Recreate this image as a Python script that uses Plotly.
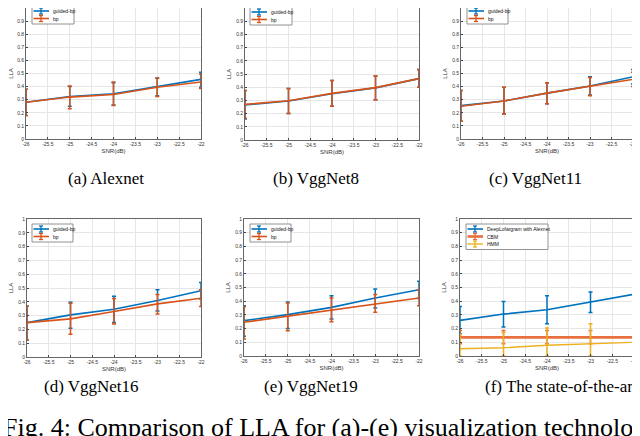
import plotly.graph_objects as go

snr = [-26, -25, -24, -23, -22]

# (a) Alexnet
a_gbp = [0.28, 0.325, 0.345, 0.40, 0.455]
a_gbp_hi = [0.38, 0.40, 0.43, 0.465, 0.51]
a_gbp_lo = [0.18, 0.25, 0.26, 0.33, 0.395]
a_bp = [0.28, 0.32, 0.34, 0.395, 0.435]
a_bp_hi = [0.38, 0.405, 0.435, 0.465, 0.495]
a_bp_lo = [0.18, 0.23, 0.255, 0.325, 0.385]

# (b) VggNet8
b_gbp = [0.265, 0.295, 0.35, 0.395, 0.465]
b_gbp_hi = [0.375, 0.39, 0.45, 0.485, 0.535]
b_gbp_lo = [0.16, 0.20, 0.255, 0.305, 0.40]
b_bp = [0.27, 0.297, 0.353, 0.397, 0.465]
b_bp_hi = [0.375, 0.39, 0.45, 0.485, 0.535]
b_bp_lo = [0.165, 0.20, 0.255, 0.305, 0.40]

# (c) VggNet11
c_gbp = [0.255, 0.29, 0.35, 0.405, 0.475]
c_gbp_hi = [0.37, 0.395, 0.43, 0.475, 0.53]
c_gbp_lo = [0.135, 0.19, 0.27, 0.335, 0.42]
c_bp = [0.25, 0.29, 0.35, 0.40, 0.455]
c_bp_hi = [0.37, 0.395, 0.43, 0.47, 0.51]
c_bp_lo = [0.135, 0.19, 0.27, 0.33, 0.40]

# (d) VggNet16
d_gbp = [0.249, 0.305, 0.346, 0.41, 0.48]
d_gbp_hi = [0.368, 0.397, 0.44, 0.487, 0.54]
d_gbp_lo = [0.123, 0.208, 0.25, 0.334, 0.42]
d_bp = [0.249, 0.276, 0.33, 0.385, 0.426]
d_bp_hi = [0.368, 0.39, 0.424, 0.453, 0.487]
d_bp_lo = [0.123, 0.165, 0.24, 0.312, 0.366]

# (e) VggNet19
e_gbp = [0.258, 0.302, 0.355, 0.423, 0.484]
e_gbp_hi = [0.367, 0.394, 0.44, 0.489, 0.545]
e_gbp_lo = [0.144, 0.20, 0.27, 0.35, 0.42]
e_bp = [0.246, 0.29, 0.338, 0.382, 0.423]
e_bp_hi = [0.36, 0.387, 0.423, 0.448, 0.484]
e_bp_lo = [0.124, 0.185, 0.25, 0.319, 0.367]

# (f) The state-of-the-art
f_deep = [0.26, 0.306, 0.337, 0.393, 0.451]
f_deep_hi = [0.362, 0.398, 0.44, 0.468, 0.515]
f_deep_lo = [0.16, 0.211, 0.235, 0.318, 0.39]
f_cbm = [0.136, 0.136, 0.136, 0.136, 0.136]
f_cbm_hi = [0.187, 0.187, 0.187, 0.187, 0.187]
f_cbm_lo = [0.09, 0.09, 0.09, 0.09, 0.09]
f_hmm = [0.053, 0.06, 0.078, 0.087, 0.10]
f_hmm_hi = [0.155, 0.172, 0.204, 0.235, 0.27]
f_hmm_lo = [0.0, 0.0, 0.0, 0.0, 0.0]

x_ticks = [-26, -25.5, -25, -24.5, -24, -23.5, -23, -22.5, -22]
x_tick_text = ["-26", "-25.5", "-25", "-24.5", "-24", "-23.5", "-23", "-22.5", "-22"]
y_ticks = [0, 0.1, 0.2, 0.3, 0.4, 0.5, 0.6, 0.7, 0.8, 0.9, 1]
y_tick_text = ["0", "0.1", "0.2", "0.3", "0.4", "0.5", "0.6", "0.7", "0.8", "0.9", "1"]

captions = ["(a) Alexnet", "(b) VggNet8", "(c) VggNet11",
            "(d) VggNet16", "(e) VggNet19", "(f) The state-of-the-art"]
fig_caption = "Fig. 4: Comparison of LLA for (a)-(e) visualization technolo"

BLUE = "#0072BD"
ORANGE = "#D95319"
YELLOW = "#EDB120"

# the page body has an 8px margin, so the figure is drawn 8px in from the window corner
OFF = 8
W, H = 640 - OFF, 436 - OFF
# pixel boxes in window coordinates (left, right, top, bottom)
boxes = [(26, 201, 2, 139), (245, 419, 2, 140), (461, 633, 2, 139),
         (27, 201, 219, 357), (244, 419, 219, 356), (460, 634, 219, 356)]
# legend boxes (left, top, right)
legend_box = [(32, 6, 74), (250, 7, 292), (467, 6, 508),
              (32, 224, 73), (250, 224, 291), (466, 224, 548)]
caption_pos = [(106, 178), (316, 178), (535, 178), (92, 386), (311, 386), (561, 386)]

panels = [
    [("guided-bp", a_gbp, a_gbp_hi, a_gbp_lo, BLUE, 1.6), ("bp", a_bp, a_bp_hi, a_bp_lo, ORANGE, 1.6)],
    [("guided-bp", b_gbp, b_gbp_hi, b_gbp_lo, BLUE, 1.6), ("bp", b_bp, b_bp_hi, b_bp_lo, ORANGE, 1.6)],
    [("guided-bp", c_gbp, c_gbp_hi, c_gbp_lo, BLUE, 1.6), ("bp", c_bp, c_bp_hi, c_bp_lo, ORANGE, 1.6)],
    [("guided-bp", d_gbp, d_gbp_hi, d_gbp_lo, BLUE, 1.6), ("bp", d_bp, d_bp_hi, d_bp_lo, ORANGE, 1.6)],
    [("guided-bp", e_gbp, e_gbp_hi, e_gbp_lo, BLUE, 1.6), ("bp", e_bp, e_bp_hi, e_bp_lo, ORANGE, 1.6)],
    [("DeepLofargram with Alexnet", f_deep, f_deep_hi, f_deep_lo, BLUE, 1.6),
     ("CBM", f_cbm, f_cbm_hi, f_cbm_lo, "#E8703F", 2.6),
     ("HMM", f_hmm, f_hmm_hi, f_hmm_lo, YELLOW, 1.4)],
]


def px(x):
    return (x - OFF) / W


def py(y):
    return 1 - (y - OFF) / H


fig = go.Figure()
layout = {}
shapes = []
annotations = []
for i, (box, series) in enumerate(zip(boxes, panels)):
    n = "" if i == 0 else str(i + 1)
    l, r, t, b = box
    for name, y, hi, lo, color, lw in series:
        fig.add_trace(go.Scatter(
            x=snr, y=y, name=name, mode="lines", showlegend=False,
            line=dict(color=color, width=lw),
            error_y=dict(type="data", symmetric=False,
                         array=[h - v for h, v in zip(hi, y)],
                         arrayminus=[v - q for v, q in zip(y, lo)],
                         color=color, thickness=1.5, width=2),
            xaxis="x" + n, yaxis="y" + n, cliponaxis=False))
    layout["xaxis" + n] = dict(
        domain=[max(0, px(l)), min(1, px(r))], anchor="y" + n, range=[-26, -22], automargin=False,
        tickvals=x_ticks, ticktext=x_tick_text, ticks="inside", ticklen=2,
        tickcolor="#444", showline=True, mirror=True, linecolor="#666", linewidth=0.8,
        showgrid=True, gridcolor="#e6e6e6", gridwidth=0.6, zeroline=False,
        tickfont=dict(size=5, color="#333", family="Liberation Sans"),
        title=dict(text="SNR(dB)", font=dict(size=6, color="#333", family="Liberation Sans"), standoff=2))
    layout["yaxis" + n] = dict(
        domain=[max(0, py(b)), min(1, py(t))], anchor="x" + n, range=[0, 1], automargin=False,
        tickvals=y_ticks, ticktext=y_tick_text, ticks="inside", ticklen=2,
        tickcolor="#444", showline=True, mirror=True, linecolor="#666", linewidth=0.8,
        showgrid=True, gridcolor="#e6e6e6", gridwidth=0.6, zeroline=False,
        tickfont=dict(size=5, color="#333", family="Liberation Sans"),
        title=dict(text="LLA", font=dict(size=6, color="#333", family="Liberation Sans"), standoff=4))

    # legend drawn as a small box (MATLAB style)
    ll, lt, lr = legend_box[i]
    lb = lt + 3 + 7.5 * len(series)
    shapes.append(dict(type="rect", xref="paper", yref="paper",
                       x0=px(ll), x1=px(lr), y0=py(lb), y1=py(lt),
                       line=dict(color="#777", width=0.8), fillcolor="white", layer="above"))
    for k, (name, y, hi, lo, color, lw) in enumerate(series):
        yy = lt + 5 + 7.5 * k
        shapes.append(dict(type="line", xref="paper", yref="paper",
                           x0=px(ll + 1.5), x1=px(ll + 17), y0=py(yy), y1=py(yy),
                           line=dict(color=color, width=lw), layer="above"))
        cx = ll + 9
        shapes.append(dict(type="line", xref="paper", yref="paper",
                           x0=px(cx), x1=px(cx), y0=py(yy - 3), y1=py(yy + 3),
                           line=dict(color=color, width=1.3), layer="above"))
        for dy in (-3, 3):
            shapes.append(dict(type="line", xref="paper", yref="paper",
                               x0=px(cx - 2), x1=px(cx + 2), y0=py(yy + dy), y1=py(yy + dy),
                               line=dict(color=color, width=1.3), layer="above"))
        annotations.append(dict(text=name, x=px(ll + 18.5), y=py(yy), xref="paper", yref="paper",
                                xanchor="left", yanchor="middle", showarrow=False,
                                font=dict(size=5, family="Liberation Sans", color="#111")))

for cap, (cx, cy) in zip(captions, caption_pos):
    annotations.append(dict(text=cap, x=px(cx), y=py(cy), xref="paper", yref="paper",
                            xanchor="center", yanchor="middle", showarrow=False,
                            font=dict(size=17, family="Liberation Serif", color="black")))
annotations.append(dict(text=fig_caption, x=px(OFF), y=py(427), xref="paper", yref="paper",
                        xanchor="left", yanchor="middle", showarrow=False, xshift=-7,
                        font=dict(size=26, family="Liberation Serif", color="black")))

fig.update_layout(width=W, height=H, margin=dict(l=0, r=0, t=0, b=0),
                  paper_bgcolor="white", plot_bgcolor="white", showlegend=False,
                  annotations=annotations, shapes=shapes, **layout)
fig.write_html("out.html")
